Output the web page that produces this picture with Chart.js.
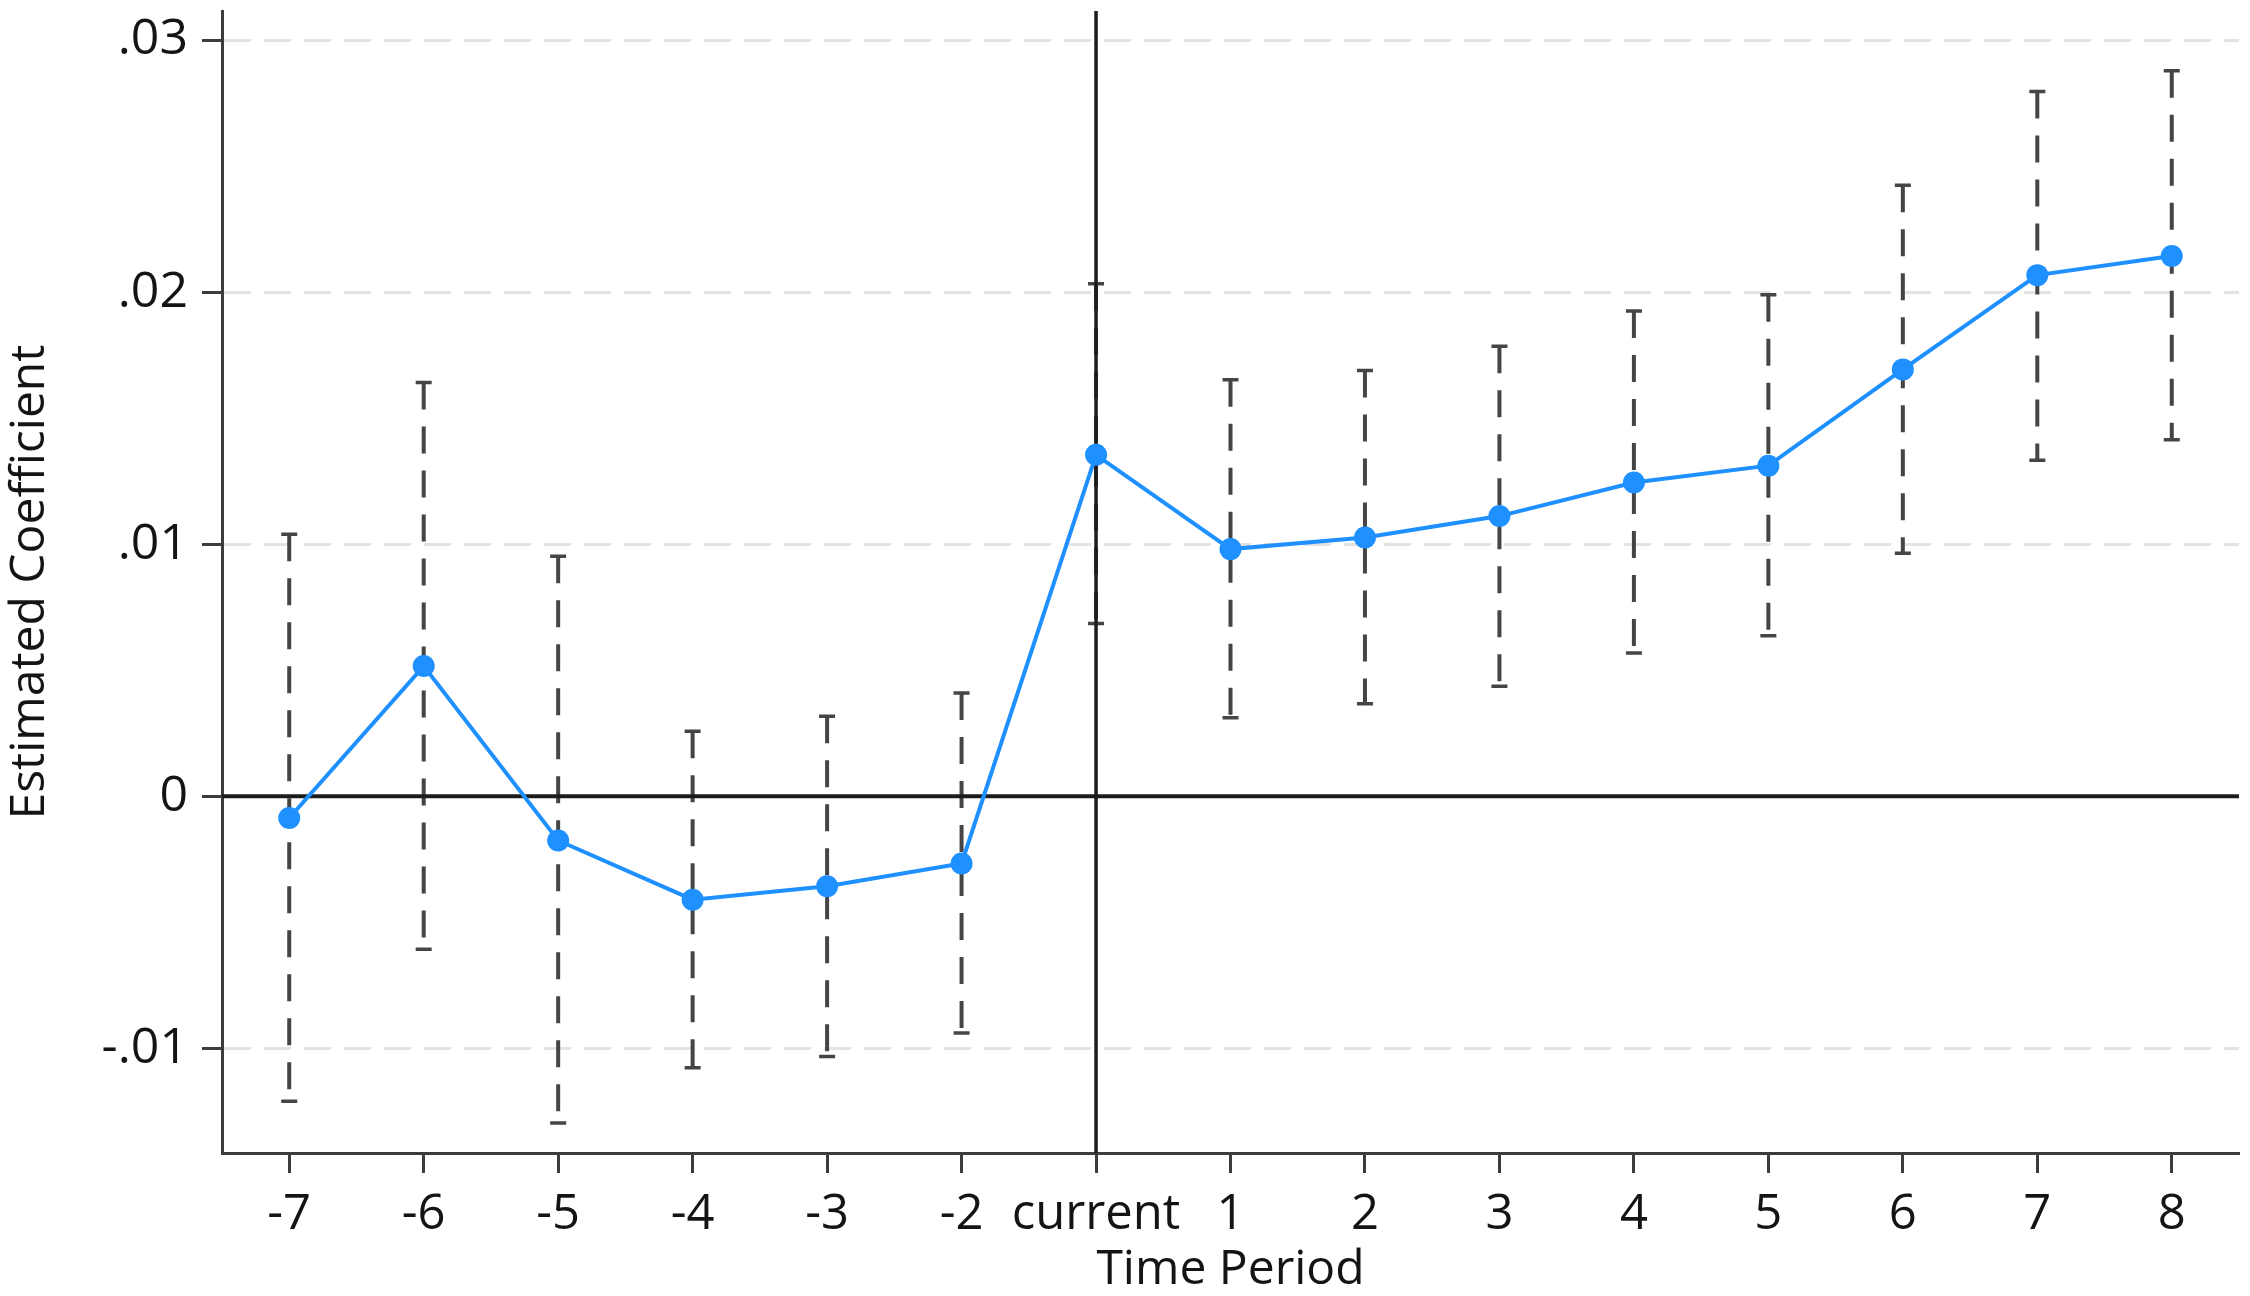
<!DOCTYPE html>
<html>
<head>
<meta charset="utf-8">
<title>Event study</title>
<script src="https://cdn.jsdelivr.net/npm/chart.js@4.4.1/dist/chart.umd.min.js"></script>
<style>
    html, body { margin: 0; padding: 0; background: #ffffff; }
    #chart { display: block; }
</style>
</head>
<body>
<canvas id="chart" width="2250" height="1296"></canvas>
<script>
// Data
const periods = ['-7', '-6', '-5', '-4', '-3', '-2', 'current', '1', '2', '3', '4', '5', '6', '7', '8'];
const coef = [-0.00086, 0.00517, -0.00175, -0.0041, -0.00357, -0.00266, 0.01355, 0.00981, 0.01027, 0.01112, 0.01245, 0.01312, 0.01694, 0.02068, 0.02144];
const ciLow = [-0.0121, -0.00607, -0.01296, -0.01077, -0.01032, -0.00939, 0.00686, 0.00312, 0.00367, 0.00437, 0.00569, 0.00637, 0.00965, 0.01334, 0.01415];
const ciHigh = [0.0104, 0.01642, 0.00953, 0.00258, 0.00318, 0.0041, 0.02034, 0.01653, 0.0169, 0.01786, 0.01926, 0.0199, 0.02425, 0.02797, 0.02879];
const yTicks = [0.03, 0.02, 0.01, 0, -0.01];
const yTickLabels = ['.03', '.02', '.01', '0', '-.01'];

const FONT = "'Open Sans', 'Noto Sans', sans-serif";
const BLUE = '#1e90ff';
const AXIS = '#3c3c3c';
const TEXT = '#141414';

// CI bars, zero line and the event line, drawn under the series
const refLines = {
    id: 'refLines',
    beforeDatasetsDraw(chart) {
        const { ctx, chartArea, scales: { x, y } } = chart;
        ctx.save();
        ctx.strokeStyle = '#454545';
        periods.forEach((p, i) => {
            const px = x.getPixelForValue(i);
            const hi = y.getPixelForValue(ciHigh[i]);
            const lo = y.getPixelForValue(ciLow[i]);
            ctx.lineWidth = 4;
            ctx.setLineDash([27, 17]);
            ctx.beginPath();
            ctx.moveTo(px, hi);
            ctx.lineTo(px, lo);
            ctx.stroke();
            ctx.setLineDash([]);
            ctx.lineWidth = 3.5;
            ctx.beginPath();
            ctx.moveTo(px - 8, hi); ctx.lineTo(px + 8, hi);
            ctx.moveTo(px - 8, lo); ctx.lineTo(px + 8, lo);
            ctx.stroke();
        });

        const y0 = y.getPixelForValue(0);
        ctx.strokeStyle = '#1c1c1c';
        ctx.lineWidth = 4;
        ctx.beginPath();
        ctx.moveTo(chartArea.left, y0);
        ctx.lineTo(chartArea.right, y0);
        ctx.stroke();

        const x0 = x.getPixelForValue(periods.indexOf('current'));
        ctx.lineWidth = 3.5;
        ctx.beginPath();
        ctx.moveTo(x0, chartArea.top);
        ctx.lineTo(x0, chartArea.bottom);
        ctx.stroke();
        ctx.restore();
    }
};

new Chart(document.getElementById('chart'), {
    type: 'line',
    data: {
        labels: periods,
        datasets: [{
            data: coef,
            borderColor: BLUE,
            backgroundColor: BLUE,
            borderWidth: 4,
            pointRadius: 11,
            pointHoverRadius: 11,
            pointBorderWidth: 0,
            pointBackgroundColor: BLUE,
            tension: 0,
            clip: false
        }]
    },
    options: {
        responsive: false,
        animation: false,
        devicePixelRatio: 1,
        layout: { padding: { top: 8, right: 11, left: 0, bottom: 0 } },
        plugins: {
            legend: { display: false },
            tooltip: { enabled: false }
        },
        scales: {
            x: {
                type: 'category',
                offset: true,
                afterFit: s => {
                    s.height = 143;
                    s.paddingLeft = 0;
                    s.paddingRight = 0;
                },
                ticks: {
                    font: { family: FONT, size: 49, lineHeight: 1 },
                    color: TEXT,
                    padding: 18,
                    maxRotation: 0,
                    autoSkip: false
                },
                grid: {
                    offset: false,
                    drawOnChartArea: false,
                    drawTicks: true,
                    tickLength: 20,
                    tickWidth: 3,
                    tickColor: AXIS
                },
                border: { display: true, color: AXIS, width: 3 },
                title: {
                    display: true,
                    text: 'Time Period',
                    font: { family: FONT, size: 48, lineHeight: 1 },
                    color: TEXT,
                    padding: { top: 0, bottom: 2 }
                }
            },
            y: {
                min: -0.01415,
                max: 0.03116,
                afterBuildTicks: s => { s.ticks = yTicks.map(v => ({ value: v })); },
                afterFit: s => {
                    s.width = 222;
                    s.paddingTop = 0;
                    s.paddingBottom = 0;
                },
                ticks: {
                    callback: (v, i) => yTickLabels[i],
                    font: { family: FONT, size: 50, lineHeight: 1 },
                    color: TEXT,
                    padding: 14
                },
                grid: {
                    color: '#e3e3e3',
                    lineWidth: 3,
                    drawTicks: true,
                    tickLength: 20,
                    tickWidth: 3,
                    tickColor: AXIS
                },
                border: { display: true, color: AXIS, width: 3, dash: [27, 13] },
                title: {
                    display: true,
                    text: 'Estimated Coefficient',
                    font: { family: FONT, size: 48, lineHeight: 1 },
                    color: TEXT,
                    padding: { top: 6, bottom: 0 }
                }
            }
        }
    },
    plugins: [refLines]
});
</script>
</body>
</html>
